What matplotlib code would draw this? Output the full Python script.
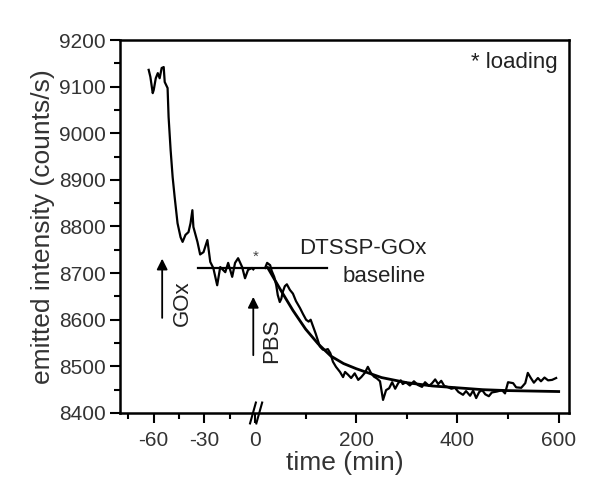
import matplotlib
matplotlib.use("Agg")
import matplotlib.pyplot as plt
import numpy as np

plt.rcParams['font.family'] = ['Liberation Sans', 'DejaVu Sans']

# raw emission trace before the break (time < 0, min)
t_left = [-63, -62, -60.6, -60, -58.8, -57.6, -56.5, -55.3, -54.1, -53.5, -51.8,
          -51.2, -50, -48.8, -47.6, -45.9, -44.1, -42.9, -41.2, -39.4, -38.2,
          -37.1, -36.5, -34.1, -32.5, -30.5, -28.2, -26.5, -24.7, -22.4, -20.6,
          -17.6, -15.9, -13.5, -11.8, -10, -7.6, -5.9, -4.1, -1.8, -1]
i_left = [9136, 9121, 9086, 9093, 9118, 9129, 9118, 9140, 9142, 9110, 9097,
          9035, 8964, 8906, 8863, 8807, 8777, 8767, 8782, 8788, 8807,
          8835, 8799, 8767, 8740, 8745, 8771, 8724, 8711, 8674, 8713,
          8702, 8722, 8692, 8722, 8732, 8713, 8689, 8707, 8711, 8708]

# raw emission trace after PBS (time > 0, min)
t_right = [20, 24, 30, 33, 38, 42, 45, 49, 52, 55, 59, 63, 69, 75, 81, 89, 95,
           101, 106, 110, 115, 120, 128, 134, 138, 144, 149, 154, 160, 168, 174,
           178, 184, 190, 197, 204, 210, 217, 223, 229, 235, 241, 247, 253, 259,
           265, 271, 277, 283, 288, 292, 298, 306, 314, 322, 330, 336, 344, 350,
           356, 362, 368, 374, 380, 388, 395, 402, 411, 417, 425, 431, 437, 443,
           449, 455, 462, 468, 478, 488, 494, 500, 510, 516, 526, 534, 539, 545,
           551, 559, 565, 572, 579, 587, 595]
i_right = [8711, 8722, 8717, 8705, 8692, 8674, 8653, 8638, 8645, 8660, 8672,
           8676, 8664, 8656, 8640, 8625, 8612, 8600, 8596, 8600, 8585, 8570,
           8543, 8536, 8535, 8537, 8528, 8510, 8499, 8488, 8477, 8488, 8482,
           8475, 8485, 8471, 8477, 8486, 8499, 8486, 8478, 8474, 8468, 8428,
           8449, 8453, 8466, 8452, 8464, 8470, 8462, 8466, 8459, 8468, 8460,
           8456, 8466, 8458, 8464, 8472, 8462, 8469, 8458, 8456, 8452, 8454,
           8445, 8439, 8447, 8437, 8448, 8432, 8445, 8449, 8440, 8436, 8444,
           8446, 8449, 8442, 8466, 8464, 8455, 8454, 8464, 8486, 8475, 8465,
           8475, 8468, 8476, 8470, 8471, 8475]

# fitted decay curve
t_fit = [25, 50, 75, 100, 125, 150, 175, 200, 250, 300, 350, 400, 450, 500, 550, 600]
i_fit = [8712, 8665, 8620, 8580, 8548, 8522, 8506, 8495, 8476, 8465, 8458,
         8454, 8450, 8448, 8447, 8446]

# DTSSP-GOx baseline level
t_base = [-34, 143]
i_base = [8710, 8710]

x_major = [-60, -30, 0, 200, 400, 600]
x_minor = [-75, -45, -15, 100, 300, 500]


def fwd(t):
    t = np.asarray(t, float)
    return np.where(t < 0, t / 30.0, t / 100.0)


def inv(u):
    u = np.asarray(u, float)
    return np.where(u < 0, u * 30.0, u * 100.0)


fig = plt.figure(figsize=(6, 4.94), dpi=100)
ax = fig.add_axes([0.2, 0.164, 0.748, 0.755])
ax.set_xscale('function', functions=(fwd, inv))

ax.plot(t_left, i_left, color='k', lw=1.6)
ax.plot(t_right, i_right, color='k', lw=1.6)
ax.plot(t_fit, i_fit, color='k', lw=2.0)
ax.plot(t_base, i_base, color='k', lw=1.6)

ax.set_xlim(-80, 620)
ax.set_ylim(8400, 9200)
ax.set_xticks(x_major)
ax.set_xticklabels([str(v) for v in x_major])
ax.set_xticks(x_minor, minor=True)
ax.set_yticks(np.arange(8400, 9201, 100))
ax.set_yticks(np.arange(8450, 9200, 100), minor=True)

for s in ax.spines.values():
    s.set_linewidth(1.8)
ax.tick_params(which='major', direction='out', length=7, width=1.5,
               labelsize=15, labelcolor='#333333', pad=3)
ax.tick_params(axis='x', which='major', pad=6)
ax.tick_params(which='minor', direction='out', length=4.5, width=1.5)

ax.set_xlabel('time (min)', fontsize=19, color='#333333', labelpad=1)
ax.set_ylabel('emitted intensity (counts/s)', fontsize=19, color='#333333', labelpad=3)

# break marks on the time axis
x0 = (fwd(0) - fwd(-80)) / (fwd(620) - fwd(-80))
for dx in (-0.011, 0.003):
    ax.plot([x0 + dx, x0 + dx + 0.013], [-0.028, 0.028], color='k', lw=1.5,
            transform=ax.transAxes, clip_on=False)

# arrows and notes
ax.annotate('', xy=(-55, 8737), xytext=(-55, 8598),
            arrowprops=dict(arrowstyle='-|>', color='k', lw=1.3, mutation_scale=16))
ax.annotate('', xy=(-1, 8655), xytext=(-1, 8518),
            arrowprops=dict(arrowstyle='-|>', color='k', lw=1.3, mutation_scale=16))
ax.text(-43, 8636, 'GOx', rotation=90, ha='center', va='center', fontsize=16, color='#222222')
ax.text(32, 8556, 'PBS', rotation=90, ha='center', va='center', fontsize=16, color='#222222')
ax.text(2, 8736, '*', ha='center', va='center', fontsize=11, color='#444444')
ax.text(338, 8752, 'DTSSP-GOx', ha='right', va='center', fontsize=16, color='#222222')
ax.text(338, 8692, 'baseline', ha='right', va='center', fontsize=16, color='#222222')
ax.text(0.975, 0.94, '* loading', transform=ax.transAxes, ha='right', va='center',
        fontsize=16, color='#222222')

fig.savefig('out.png', dpi=100)
